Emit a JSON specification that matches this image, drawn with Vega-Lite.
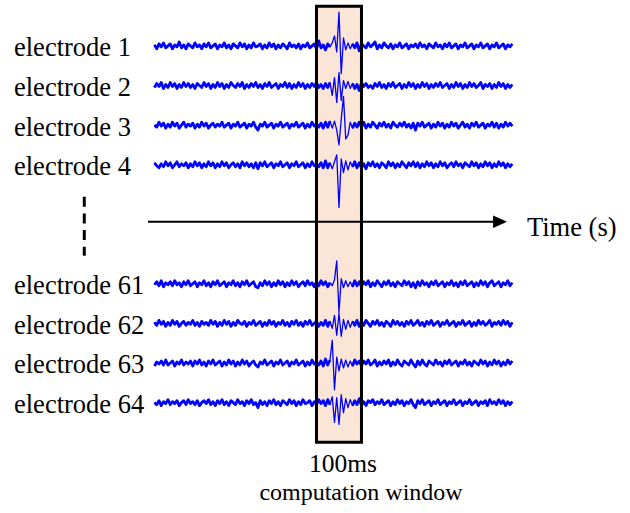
{
  "$schema": "https://vega.github.io/schema/vega-lite/v6.json",
  "width": 630,
  "height": 513,
  "padding": 0,
  "autosize": {"type": "none"},
  "background": "white",
  "config": {"view": {"stroke": null}, "text": {"font": "Liberation Serif, Times New Roman, serif"}},
  "datasets": {
    "signals": [
      {"t":0,"e1":1,"e2":-2,"e3":0,"e4":2,"e61":-1,"e62":1,"e63":-3,"e64":0},
      {"t":5,"e1":-3,"e2":2,"e3":-2,"e4":-1,"e61":2,"e62":-2,"e63":1,"e64":-2},
      {"t":10,"e1":2,"e2":-1,"e3":3,"e4":-3,"e61":-2,"e62":3,"e63":-1,"e64":2},
      {"t":15,"e1":-1,"e2":3,"e3":-1,"e4":1,"e61":3,"e62":-1,"e63":2,"e64":-3},
      {"t":20,"e1":3,"e2":-3,"e3":2,"e4":-2,"e61":-3,"e62":2,"e63":-2,"e64":1},
      {"t":25,"e1":-2,"e2":1,"e3":-3,"e4":3,"e61":1,"e62":-3,"e63":3,"e64":-1},
      {"t":30,"e1":0,"e2":-2,"e3":1,"e4":-1,"e61":-1,"e62":1,"e63":-2,"e64":3},
      {"t":35,"e1":2,"e2":3,"e3":-2,"e4":2,"e61":2,"e62":-2,"e63":0,"e64":-2},
      {"t":40,"e1":-3,"e2":-1,"e3":3,"e4":-3,"e61":-2,"e62":3,"e63":2,"e64":1},
      {"t":45,"e1":1,"e2":2,"e3":-1,"e4":0,"e61":3,"e62":-1,"e63":-3,"e64":-1},
      {"t":50,"e1":-1,"e2":-3,"e3":2,"e4":3,"e61":-1,"e62":2,"e63":1,"e64":2},
      {"t":55,"e1":4,"e2":1,"e3":-3,"e4":-2,"e61":1,"e62":-3,"e63":-1,"e64":-3},
      {"t":60,"e1":-2,"e2":-2,"e3":0,"e4":1,"e61":-3,"e62":0,"e63":3,"e64":0},
      {"t":65,"e1":1,"e2":3,"e3":3,"e4":-1,"e61":2,"e62":2,"e63":-2,"e64":2},
      {"t":70,"e1":-3,"e2":-1,"e3":-2,"e4":2,"e61":-1,"e62":-2,"e63":1,"e64":-2},
      {"t":75,"e1":2,"e2":2,"e3":1,"e4":-3,"e61":3,"e62":1,"e63":-1,"e64":3},
      {"t":80,"e1":0,"e2":-2,"e3":-1,"e4":1,"e61":-2,"e62":-1,"e63":2,"e64":-1},
      {"t":85,"e1":-2,"e2":1,"e3":2,"e4":-2,"e61":0,"e62":3,"e63":-3,"e64":1},
      {"t":90,"e1":3,"e2":-3,"e3":-3,"e4":3,"e61":2,"e62":-2,"e63":2,"e64":-2},
      {"t":95,"e1":-1,"e2":2,"e3":1,"e4":-1,"e61":-3,"e62":1,"e63":-1,"e64":2},
      {"t":100,"e1":1,"e2":0,"e3":-2,"e4":2,"e61":1,"e62":-3,"e63":3,"e64":-3},
      {"t":105,"e1":-3,"e2":-2,"e3":3,"e4":-3,"e61":-1,"e62":2,"e63":-2,"e64":0},
      {"t":110,"e1":2,"e2":3,"e3":-1,"e4":1,"e61":3,"e62":-1,"e63":1,"e64":2},
      {"t":115,"e1":-1,"e2":-1,"e3":2,"e4":-2,"e61":-2,"e62":1,"e63":-3,"e64":-1},
      {"t":120,"e1":3,"e2":2,"e3":-3,"e4":3,"e61":1,"e62":-2,"e63":2,"e64":3},
      {"t":125,"e1":-2,"e2":-3,"e3":0,"e4":-1,"e61":-3,"e62":3,"e63":-1,"e64":-2},
      {"t":130,"e1":0,"e2":1,"e3":2,"e4":2,"e61":2,"e62":-1,"e63":3,"e64":1},
      {"t":135,"e1":2,"e2":-2,"e3":-2,"e4":-3,"e61":-1,"e62":2,"e63":-2,"e64":-3},
      {"t":140,"e1":-3,"e2":3,"e3":1,"e4":1,"e61":3,"e62":-3,"e63":0,"e64":2},
      {"t":145,"e1":1,"e2":-1,"e3":-1,"e4":-2,"e61":-2,"e62":1,"e63":2,"e64":-1},
      {"t":150,"e1":-1,"e2":2,"e3":3,"e4":3,"e61":0,"e62":-2,"e63":-3,"e64":3},
      {"t":155,"e1":3,"e2":-3,"e3":-2,"e4":-1,"e61":2,"e62":3,"e63":1,"e64":-2},
      {"t":160,"e1":-2,"e2":1,"e3":0,"e4":2,"e61":-3,"e62":-1,"e63":-2,"e64":1},
      {"t":165,"e1":1,"e2":-2,"e3":2,"e4":-3,"e61":1,"e62":2,"e63":3,"e64":-3},
      {"t":170,"e1":-3,"e2":3,"e3":-3,"e4":0,"e61":-1,"e62":-3,"e63":-1,"e64":2},
      {"t":175,"e1":2,"e2":0,"e3":1,"e4":2,"e61":3,"e62":1,"e63":2,"e64":0},
      {"t":180,"e1":0,"e2":-2,"e3":-1,"e4":-2,"e61":-2,"e62":-2,"e63":-3,"e64":-2},
      {"t":185,"e1":-2,"e2":2,"e3":3,"e4":1,"e61":1,"e62":3,"e63":1,"e64":3},
      {"t":190,"e1":3,"e2":-1,"e3":-2,"e4":-3,"e61":-3,"e62":0,"e63":-2,"e64":-1},
      {"t":195,"e1":-1,"e2":3,"e3":0,"e4":3,"e61":2,"e62":-1,"e63":3,"e64":1},
      {"t":200,"e1":2,"e2":-3,"e3":2,"e4":-1,"e61":-1,"e62":2,"e63":-1,"e64":-3},
      {"t":205,"e1":-3,"e2":1,"e3":-3,"e4":2,"e61":3,"e62":-3,"e63":2,"e64":2},
      {"t":210,"e1":1,"e2":-2,"e3":1,"e4":-2,"e61":-2,"e62":1,"e63":-3,"e64":-1},
      {"t":215,"e1":-2,"e2":2,"e3":-1,"e4":1,"e61":0,"e62":-1,"e63":0,"e64":3},
      {"t":220,"e1":3,"e2":-1,"e3":3,"e4":-3,"e61":2,"e62":3,"e63":2,"e64":-2},
      {"t":225,"e1":-1,"e2":3,"e3":-2,"e4":2,"e61":-3,"e62":-2,"e63":-2,"e64":0},
      {"t":230,"e1":0,"e2":-2,"e3":-5,"e4":-4,"e61":-4,"e62":0,"e63":-4,"e64":-5},
      {"t":235,"e1":2,"e2":1,"e3":1,"e4":2,"e61":1,"e62":2,"e63":1,"e64":2},
      {"t":240,"e1":-3,"e2":-3,"e3":-1,"e4":-1,"e61":-2,"e62":-3,"e63":-1,"e64":-2},
      {"t":245,"e1":1,"e2":2,"e3":3,"e4":3,"e61":3,"e62":1,"e63":3,"e64":1},
      {"t":250,"e1":-2,"e2":-1,"e3":-2,"e4":-2,"e61":-1,"e62":-2,"e63":-2,"e64":-3},
      {"t":255,"e1":3,"e2":3,"e3":0,"e4":0,"e61":2,"e62":3,"e63":0,"e64":2},
      {"t":260,"e1":-1,"e2":-2,"e3":2,"e4":2,"e61":-3,"e62":-1,"e63":2,"e64":-1},
      {"t":265,"e1":2,"e2":0,"e3":-3,"e4":-3,"e61":1,"e62":2,"e63":-3,"e64":3},
      {"t":270,"e1":-3,"e2":2,"e3":1,"e4":1,"e61":-2,"e62":-3,"e63":1,"e64":-2},
      {"t":275,"e1":1,"e2":-3,"e3":-1,"e4":-1,"e61":3,"e62":1,"e63":-1,"e64":1},
      {"t":280,"e1":-2,"e2":1,"e3":3,"e4":3,"e61":-1,"e62":-1,"e63":3,"e64":-3},
      {"t":285,"e1":2,"e2":-1,"e3":-2,"e4":-2,"e61":2,"e62":3,"e63":-2,"e64":2},
      {"t":290,"e1":0,"e2":3,"e3":0,"e4":0,"e61":-3,"e62":-2,"e63":0,"e64":0},
      {"t":295,"e1":-3,"e2":-2,"e3":2,"e4":2,"e61":1,"e62":1,"e63":2,"e64":-2},
      {"t":300,"e1":3,"e2":2,"e3":-3,"e4":-3,"e61":-2,"e62":-3,"e63":-3,"e64":3},
      {"t":305,"e1":-1,"e2":-3,"e3":1,"e4":1,"e61":3,"e62":2,"e63":1,"e64":-1},
      {"t":310,"e1":1,"e2":1,"e3":-1,"e4":-1,"e61":-1,"e62":-1,"e63":-1,"e64":2},
      {"t":315,"e1":-2,"e2":-2,"e3":3,"e4":3,"e61":2,"e62":3,"e63":3,"e64":-3},
      {"t":320,"e1":2,"e2":3,"e3":-2,"e4":-2,"e61":-3,"e62":-2,"e63":-2,"e64":1},
      {"t":325,"e1":-3,"e2":-1,"e3":0,"e4":0,"e61":0,"e62":1,"e63":0,"e64":-2},
      {"t":330,"e1":1,"e2":2,"e3":2,"e4":2,"e61":2,"e62":-3,"e63":2,"e64":3},
      {"t":335,"e1":-1,"e2":-3,"e3":-3,"e4":-3,"e61":-2,"e62":2,"e63":-3,"e64":-1},
      {"t":340,"e1":3,"e2":1,"e3":1,"e4":1,"e61":3,"e62":-1,"e63":1,"e64":0},
      {"t":345,"e1":-2,"e2":-2,"e3":-2,"e4":-2,"e61":-1,"e62":3,"e63":-2,"e64":2},
      {"t":350,"e1":0,"e2":2,"e3":3,"e4":3,"e61":1,"e62":-2,"e63":3,"e64":-3},
      {"t":355,"e1":2,"e2":-1,"e3":-1,"e4":-1,"e61":-3,"e62":0,"e63":-1,"e64":1},
      {"t":360,"e1":-3,"e2":3,"e3":1,"e4":1,"e61":2,"e62":2,"e63":1,"e64":-2},
      {"t":365,"e1":5,"e2":-2,"e3":-2,"e4":-2,"e61":-2,"e62":-3,"e63":-2,"e64":3},
      {"t":370,"e1":-2,"e2":1,"e3":2,"e4":2,"e61":3,"e62":1,"e63":2,"e64":-1},
      {"t":375,"e1":1,"e2":-3,"e3":-3,"e4":-3,"e61":-1,"e62":-2,"e63":-3,"e64":2},
      {"t":380,"e1":-4,"e2":2,"e3":3,"e4":4,"e61":2,"e62":3,"e63":4,"e64":-3},
      {"t":385,"e1":2,"e2":-2,"e3":-2,"e4":-3,"e61":-3,"e62":-3,"e63":-2,"e64":3},
      {"t":390,"e1":-1,"e2":3,"e3":4,"e4":2,"e61":1,"e62":2,"e63":3,"e64":-2},
      {"t":395,"e1":3,"e2":-10,"e3":-3,"e4":-4,"e61":-2,"e62":-5,"e63":23,"e64":6},
      {"t":400,"e1":10,"e2":8,"e3":4,"e4":3,"e61":4,"e62":8,"e63":-27,"e64":-20},
      {"t":405,"e1":-6,"e2":-17,"e3":-5,"e4":10,"e61":23,"e62":-12,"e63":6,"e64":5},
      {"t":410,"e1":34,"e2":13,"e3":-20,"e4":-43,"e61":-29,"e62":10,"e63":-8,"e64":-22},
      {"t":415,"e1":-28,"e2":-15,"e3":6,"e4":6,"e61":5,"e62":-13,"e63":4,"e64":8},
      {"t":420,"e1":8,"e2":5,"e3":29,"e4":-8,"e61":-4,"e62":4,"e63":-5,"e64":-10},
      {"t":425,"e1":-4,"e2":-3,"e3":-14,"e4":4,"e61":3,"e62":-6,"e63":3,"e64":4},
      {"t":430,"e1":3,"e2":4,"e3":-10,"e4":-5,"e61":-3,"e62":3,"e63":-4,"e64":-5},
      {"t":435,"e1":-3,"e2":-3,"e3":3,"e4":3,"e61":2,"e62":-4,"e63":2,"e64":3},
      {"t":440,"e1":2,"e2":2,"e3":-3,"e4":-2,"e61":-3,"e62":2,"e63":-3,"e64":-3},
      {"t":445,"e1":-2,"e2":-3,"e3":2,"e4":3,"e61":3,"e62":-2,"e63":3,"e64":2},
      {"t":450,"e1":3,"e2":1,"e3":-2,"e4":-3,"e61":-2,"e62":3,"e63":-1,"e64":-2},
      {"t":455,"e1":-5,"e2":-5,"e3":3,"e4":2,"e61":2,"e62":-3,"e63":2,"e64":4},
      {"t":460,"e1":2,"e2":3,"e3":-2,"e4":-3,"e61":-3,"e62":2,"e63":-3,"e64":-3},
      {"t":465,"e1":0,"e2":-1,"e3":3,"e4":1,"e61":2,"e62":-2,"e63":2,"e64":1},
      {"t":470,"e1":-2,"e2":2,"e3":-3,"e4":-4,"e61":-1,"e62":3,"e63":-1,"e64":-3},
      {"t":475,"e1":3,"e2":-2,"e3":1,"e4":2,"e61":3,"e62":0,"e63":3,"e64":2},
      {"t":480,"e1":-1,"e2":0,"e3":-2,"e4":-1,"e61":-3,"e62":-3,"e63":-2,"e64":0},
      {"t":485,"e1":1,"e2":-3,"e3":3,"e4":3,"e61":1,"e62":2,"e63":0,"e64":3},
      {"t":490,"e1":4,"e2":2,"e3":0,"e4":-2,"e61":-2,"e62":-1,"e63":3,"e64":-2},
      {"t":495,"e1":-3,"e2":-1,"e3":-3,"e4":1,"e61":3,"e62":3,"e63":-3,"e64":1},
      {"t":500,"e1":1,"e2":3,"e3":2,"e4":-3,"e61":0,"e62":-2,"e63":1,"e64":-1},
      {"t":505,"e1":-2,"e2":-2,"e3":-1,"e4":2,"e61":-3,"e62":1,"e63":-2,"e64":3},
      {"t":510,"e1":3,"e2":1,"e3":3,"e4":0,"e61":2,"e62":-3,"e63":2,"e64":-2},
      {"t":515,"e1":0,"e2":-3,"e3":-2,"e4":-3,"e61":-1,"e62":2,"e63":-1,"e64":0},
      {"t":520,"e1":-2,"e2":2,"e3":1,"e4":3,"e61":3,"e62":0,"e63":3,"e64":2},
      {"t":525,"e1":2,"e2":-1,"e3":-3,"e4":-1,"e61":-2,"e62":-3,"e63":-3,"e64":-3},
      {"t":530,"e1":-3,"e2":3,"e3":3,"e4":2,"e61":1,"e62":3,"e63":1,"e64":1},
      {"t":535,"e1":1,"e2":-2,"e3":0,"e4":-3,"e61":-3,"e62":-1,"e63":-2,"e64":-2},
      {"t":540,"e1":-1,"e2":0,"e3":-2,"e4":1,"e61":2,"e62":2,"e63":3,"e64":3},
      {"t":545,"e1":3,"e2":2,"e3":2,"e4":-2,"e61":0,"e62":-2,"e63":-1,"e64":-1},
      {"t":550,"e1":-2,"e2":-3,"e3":-1,"e4":3,"e61":-2,"e62":1,"e63":-3,"e64":2},
      {"t":555,"e1":0,"e2":1,"e3":3,"e4":0,"e61":3,"e62":-3,"e63":2,"e64":-3},
      {"t":560,"e1":2,"e2":-2,"e3":-2,"e4":-3,"e61":-1,"e62":2,"e63":0,"e64":1},
      {"t":565,"e1":-3,"e2":3,"e3":1,"e4":2,"e61":2,"e62":-1,"e63":-2,"e64":-1},
      {"t":570,"e1":1,"e2":-1,"e3":-3,"e4":-1,"e61":-3,"e62":3,"e63":3,"e64":3},
      {"t":575,"e1":-1,"e2":2,"e3":2,"e4":3,"e61":1,"e62":-2,"e63":-1,"e64":-2},
      {"t":580,"e1":2,"e2":-3,"e3":-5,"e4":-2,"e61":-4,"e62":0,"e63":-4,"e64":-5},
      {"t":585,"e1":-2,"e2":1,"e3":2,"e4":2,"e61":2,"e62":3,"e63":2,"e64":2},
      {"t":590,"e1":3,"e2":-2,"e3":-1,"e4":-3,"e61":-2,"e62":-2,"e63":-2,"e64":-1},
      {"t":595,"e1":-1,"e2":3,"e3":3,"e4":1,"e61":3,"e62":1,"e63":3,"e64":3},
      {"t":600,"e1":1,"e2":-1,"e3":-2,"e4":-2,"e61":-1,"e62":-3,"e63":-1,"e64":-2},
      {"t":605,"e1":-3,"e2":2,"e3":0,"e4":3,"e61":1,"e62":2,"e63":-3,"e64":0},
      {"t":610,"e1":2,"e2":-3,"e3":2,"e4":-1,"e61":-3,"e62":-1,"e63":2,"e64":2},
      {"t":615,"e1":0,"e2":1,"e3":-3,"e4":2,"e61":2,"e62":3,"e63":0,"e64":-3},
      {"t":620,"e1":-2,"e2":-2,"e3":1,"e4":-3,"e61":-1,"e62":-2,"e63":-2,"e64":1},
      {"t":625,"e1":3,"e2":2,"e3":-2,"e4":1,"e61":3,"e62":0,"e63":3,"e64":-1},
      {"t":630,"e1":-1,"e2":-1,"e3":3,"e4":-2,"e61":-2,"e62":2,"e63":-1,"e64":3},
      {"t":635,"e1":1,"e2":3,"e3":-1,"e4":3,"e61":0,"e62":-3,"e63":1,"e64":-2},
      {"t":640,"e1":-3,"e2":-2,"e3":2,"e4":-1,"e61":2,"e62":1,"e63":-3,"e64":0},
      {"t":645,"e1":2,"e2":0,"e3":-3,"e4":2,"e61":-3,"e62":-1,"e63":2,"e64":2},
      {"t":650,"e1":-1,"e2":2,"e3":1,"e4":-3,"e61":1,"e62":3,"e63":-1,"e64":-3},
      {"t":655,"e1":3,"e2":-3,"e3":-2,"e4":0,"e61":-1,"e62":-2,"e63":3,"e64":1},
      {"t":660,"e1":-2,"e2":1,"e3":3,"e4":2,"e61":3,"e62":0,"e63":-2,"e64":-1},
      {"t":665,"e1":0,"e2":-2,"e3":-1,"e4":-2,"e61":-2,"e62":2,"e63":0,"e64":3},
      {"t":670,"e1":2,"e2":3,"e3":2,"e4":3,"e61":1,"e62":-3,"e63":2,"e64":-2},
      {"t":675,"e1":-3,"e2":-1,"e3":-3,"e4":-1,"e61":-3,"e62":1,"e63":-3,"e64":0},
      {"t":680,"e1":1,"e2":2,"e3":0,"e4":1,"e61":2,"e62":-1,"e63":1,"e64":2},
      {"t":685,"e1":-1,"e2":-3,"e3":3,"e4":-3,"e61":-1,"e62":3,"e63":-1,"e64":-3},
      {"t":690,"e1":3,"e2":1,"e3":-2,"e4":2,"e61":3,"e62":-2,"e63":3,"e64":1},
      {"t":695,"e1":-2,"e2":-2,"e3":1,"e4":0,"e61":-2,"e62":0,"e63":-2,"e64":-1},
      {"t":700,"e1":0,"e2":3,"e3":-3,"e4":-2,"e61":0,"e62":2,"e63":1,"e64":3},
      {"t":705,"e1":2,"e2":-1,"e3":2,"e4":3,"e61":2,"e62":-3,"e63":-3,"e64":-2},
      {"t":710,"e1":-3,"e2":2,"e3":-1,"e4":-1,"e61":-3,"e62":1,"e63":2,"e64":0},
      {"t":715,"e1":1,"e2":-2,"e3":3,"e4":2,"e61":1,"e62":-2,"e63":0,"e64":2},
      {"t":720,"e1":-1,"e2":0,"e3":-2,"e4":-3,"e61":-2,"e62":3,"e63":-2,"e64":-3},
      {"t":725,"e1":3,"e2":3,"e3":0,"e4":1,"e61":3,"e62":-1,"e63":3,"e64":1},
      {"t":730,"e1":-2,"e2":-3,"e3":2,"e4":-2,"e61":-1,"e62":2,"e63":-1,"e64":-1},
      {"t":735,"e1":0,"e2":1,"e3":-3,"e4":3,"e61":2,"e62":-2,"e63":2,"e64":2},
      {"t":740,"e1":2,"e2":-1,"e3":1,"e4":-1,"e61":-3,"e62":0,"e63":-3,"e64":-3},
      {"t":745,"e1":-3,"e2":2,"e3":-1,"e4":2,"e61":1,"e62":3,"e63":1,"e64":3},
      {"t":750,"e1":1,"e2":-3,"e3":3,"e4":-3,"e61":3,"e62":-3,"e63":-2,"e64":-1},
      {"t":755,"e1":-1,"e2":1,"e3":-2,"e4":1,"e61":-2,"e62":1,"e63":3,"e64":1},
      {"t":760,"e1":3,"e2":-2,"e3":2,"e4":-2,"e61":0,"e62":-1,"e63":-1,"e64":-2},
      {"t":765,"e1":-2,"e2":3,"e3":-3,"e4":3,"e61":2,"e62":2,"e63":2,"e64":3},
      {"t":770,"e1":0,"e2":-1,"e3":1,"e4":-1,"e61":-3,"e62":-2,"e63":-3,"e64":-1},
      {"t":775,"e1":2,"e2":2,"e3":-2,"e4":2,"e61":1,"e62":3,"e63":1,"e64":2},
      {"t":780,"e1":-3,"e2":-3,"e3":3,"e4":-3,"e61":-1,"e62":-1,"e63":-2,"e64":-3},
      {"t":785,"e1":1,"e2":1,"e3":-1,"e4":1,"e61":3,"e62":2,"e63":3,"e64":1},
      {"t":790,"e1":-1,"e2":-2,"e3":2,"e4":-2,"e61":-2,"e62":-3,"e63":-1,"e64":-2},
      {"t":795,"e1":2,"e2":1,"e3":-1,"e4":1,"e61":1,"e62":1,"e63":2,"e64":1}
    ],
    "electrodes": [
      {"ch":"e1","name":"electrode 1"},
      {"ch":"e2","name":"electrode 2"},
      {"ch":"e3","name":"electrode 3"},
      {"ch":"e4","name":"electrode 4"},
      {"ch":"e61","name":"electrode 61"},
      {"ch":"e62","name":"electrode 62"},
      {"ch":"e63","name":"electrode 63"},
      {"ch":"e64","name":"electrode 64"}
    ],
    "windows": [
      {"start":360,"end":460,"length":"100ms","caption":"computation window"}
    ]
  },
  "layer": [
    {
      "data": {"name": "windows"},
      "mark": {"type": "rect", "fill": "#FBE5D6", "stroke": null},
      "encoding": {
        "x": {"field": "start", "type": "quantitative", "scale": {"domain": [-343.3, 1056.7], "nice": false, "zero": false}, "axis": null},
        "x2": {"field": "end"},
        "y": {"datum": -1, "type": "quantitative", "scale": {"domain": [-1.157, 11.784], "reverse": true, "nice": false, "zero": false}, "axis": null},
        "y2": {"datum": 10}
      }
    },
    {
      "data": {"name": "signals"},
      "transform": [
        {"fold": ["e1","e2","e3","e4","e61","e62","e63","e64"], "as": ["ch","uV"]},
        {"calculate": "indexof(['e1','e2','e3','e4','','','e61','e62','e63','e64'], datum.ch)", "as": "lane"},
        {"calculate": "datum.lane - datum.uV / 40", "as": "trace"}
      ],
      "mark": {"type": "line", "color": "#0000FF", "strokeWidth": 1.3, "strokeJoin": "round", "interpolate": "linear"},
      "encoding": {
        "x": {"field": "t", "type": "quantitative"},
        "y": {"field": "trace", "type": "quantitative"},
        "detail": {"field": "ch"}
      }
    },
    {
      "data": {"name": "signals"},
      "transform": [
        {"fold": ["e1","e2","e3","e4","e61","e62","e63","e64"], "as": ["ch","uV"]},
        {"calculate": "indexof(['e1','e2','e3','e4','','','e61','e62','e63','e64'], datum.ch)", "as": "lane"},
        {"calculate": "datum.t >= 395 && datum.t <= 435 ? null : datum.lane - datum.uV / 40", "as": "background"}
      ],
      "mark": {"type": "line", "color": "#0000FF", "strokeWidth": 2.8, "strokeJoin": "round", "interpolate": "linear", "invalid": "break-paths-show-domains"},
      "encoding": {
        "x": {"field": "t", "type": "quantitative"},
        "y": {"field": "background", "type": "quantitative"},
        "detail": {"field": "ch"}
      }
    },
    {
      "data": {"name": "windows"},
      "mark": {"type": "rect", "fill": null, "stroke": "black", "strokeWidth": 3},
      "encoding": {
        "x": {"field": "start", "type": "quantitative"},
        "x2": {"field": "end"},
        "y": {"datum": -1, "type": "quantitative"},
        "y2": {"datum": 10}
      }
    },
    {
      "data": {"name": "electrodes"},
      "transform": [
        {"calculate": "indexof(['e1','e2','e3','e4','','','e61','e62','e63','e64'], datum.ch)", "as": "lane"}
      ],
      "mark": {"type": "text", "font": "Liberation Serif, Times New Roman, serif", "fontSize": 26.5, "align": "left", "baseline": "alphabetic", "dy": 10.5, "color": "black"},
      "encoding": {
        "x": {"datum": -312.2, "type": "quantitative"},
        "y": {"field": "lane", "type": "quantitative"},
        "text": {"field": "name"}
      }
    },
    {
      "data": {"values": [{}]},
      "mark": {"type": "rule", "color": "black", "strokeWidth": 3, "strokeDash": [10, 6.7]},
      "encoding": {
        "x": {"datum": -156, "type": "quantitative"},
        "y": {"datum": 3.805, "type": "quantitative"},
        "y2": {"datum": 5.293}
      }
    },
    {
      "data": {"values": [{}]},
      "mark": {"type": "rule", "color": "black", "strokeWidth": 2},
      "encoding": {
        "x": {"datum": -14.4, "type": "quantitative"},
        "x2": {"datum": 755},
        "y": {"datum": 4.436, "type": "quantitative"}
      }
    },
    {
      "data": {"values": [{}]},
      "mark": {"type": "point", "shape": "M-1,-0.9L1,0L-1,0.9Z", "filled": true, "color": "black", "opacity": 1, "size": 196},
      "encoding": {
        "x": {"datum": 768, "type": "quantitative"},
        "y": {"datum": 4.436, "type": "quantitative"}
      }
    },
    {
      "data": {"values": [{}]},
      "mark": {"type": "text", "text": "Time (s)", "font": "Liberation Serif, Times New Roman, serif", "fontSize": 26.5, "align": "left", "baseline": "alphabetic", "dy": 14.3, "color": "black"},
      "encoding": {
        "x": {"datum": 827.8, "type": "quantitative"},
        "y": {"datum": 4.436, "type": "quantitative"}
      }
    },
    {
      "data": {"name": "windows"},
      "mark": {"type": "text", "font": "Liberation Serif, Times New Roman, serif", "fontSize": 25.5, "align": "center", "baseline": "alphabetic", "color": "black"},
      "encoding": {
        "x": {"datum": 419, "type": "quantitative"},
        "y": {"datum": 10.74, "type": "quantitative"},
        "text": {"field": "length"}
      }
    },
    {
      "data": {"name": "windows"},
      "mark": {"type": "text", "font": "Liberation Serif, Times New Roman, serif", "fontSize": 24, "align": "center", "baseline": "alphabetic", "color": "black"},
      "encoding": {
        "x": {"datum": 459, "type": "quantitative"},
        "y": {"datum": 11.455, "type": "quantitative"},
        "text": {"field": "caption"}
      }
    }
  ]
}
